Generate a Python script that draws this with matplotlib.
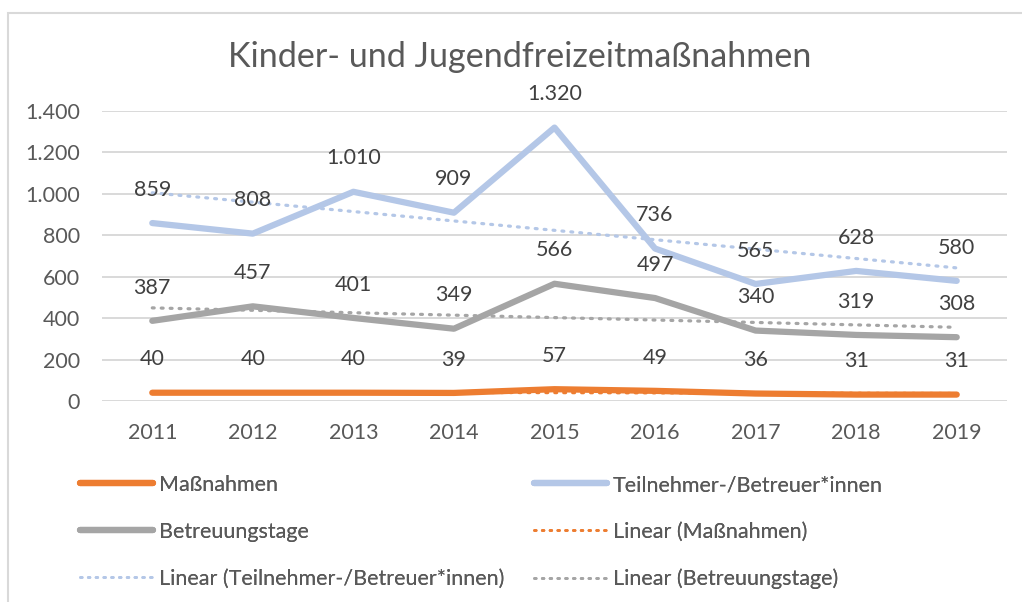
import numpy as np
import matplotlib.pyplot as plt
from matplotlib.patches import Rectangle
from matplotlib.lines import Line2D
from matplotlib.ticker import FuncFormatter

plt.rcParams['font.family'] = ['Lato', 'DejaVu Sans']

jahre = ['2011', '2012', '2013', '2014', '2015', '2016', '2017', '2018', '2019']
massnahmen = [40, 40, 40, 39, 57, 49, 36, 31, 31]
teilnehmer = [859, 808, 1010, 909, 1320, 736, 565, 628, 580]
betreuungstage = [387, 457, 401, 349, 566, 497, 340, 319, 308]

serien = [
    ('Maßnahmen', massnahmen, '#ED7D31'),
    ('Teilnehmer-/Betreuer*innen', teilnehmer, '#B4C7E7'),
    ('Betreuungstage', betreuungstage, '#A5A5A5'),
]

grau = '#595959'
fs = 15.5
punktiert = (0, (0.6, 2.2))

def punkt(v, pos=None):
    return f'{int(v):,}'.replace(',', '.')

fig = plt.figure(figsize=(10.22, 6.02), dpi=100)
ax = fig.add_axes([102 / 1022, 1 - 401 / 602, 905 / 1022, 290 / 602])

x = np.arange(len(jahre))

# lineare Trendlinien wie in Excel
for name, werte, farbe in serien:
    k, d = np.polyfit(x, werte, 1)
    ax.plot(x, k * x + d, color=farbe, lw=2.3, ls=punktiert,
            dash_capstyle='round', zorder=2)

for name, werte, farbe in serien:
    ax.plot(x, werte, color=farbe, lw=4.5, solid_capstyle='round', zorder=3)
    for i, v in enumerate(werte):
        ax.annotate(punkt(v), (x[i], v), xytext=(0, 24), textcoords='offset points',
                    ha='center', va='center', fontsize=fs, color='#404040', zorder=4)

ax.set_xlim(-0.5, len(jahre) - 0.5)
ax.set_ylim(0, 1400)
ax.set_yticks(range(0, 1401, 200))
ax.yaxis.set_major_formatter(FuncFormatter(punkt))
ax.set_xticks(x)
ax.set_xticklabels(jahre)
ax.tick_params(axis='both', length=0, labelsize=fs, labelcolor=grau)
ax.tick_params(axis='x', pad=16)
ax.tick_params(axis='y', pad=16)
ax.grid(axis='y', color='#D9D9D9', lw=1.4)
ax.set_axisbelow(True)
for s in ax.spines.values():
    s.set_visible(False)

fig.text(520 / 1022, 1 - 57 / 602, 'Kinder- und Jugendfreizeitmaßnahmen',
         ha='center', va='center', fontsize=24.6, color=grau)

# Legende in zwei Spalten
def voll(farbe):
    return Line2D([], [], color=farbe, lw=4.5, solid_capstyle='round')

def trend(farbe):
    return Line2D([], [], color=farbe, lw=2, ls=punktiert, dash_capstyle='round')

spalte1 = ([voll('#ED7D31'), voll('#A5A5A5'), trend('#B4C7E7')],
           ['Maßnahmen', 'Betreuungstage', 'Linear (Teilnehmer-/Betreuer*innen)'])
spalte2 = ([voll('#B4C7E7'), trend('#ED7D31'), trend('#A5A5A5')],
           ['Teilnehmer-/Betreuer*innen', 'Linear (Maßnahmen)', 'Linear (Betreuungstage)'])

for (h, l), x0 in [(spalte1, 80), (spalte2, 534)]:
    leg = fig.legend(h, l, loc='upper left', bbox_to_anchor=(x0 / 1022, 1 - 475 / 602),
                     frameon=False, fontsize=fs, handlelength=3.4, handletextpad=0.25,
                     labelspacing=1.25, borderpad=0, borderaxespad=0)
    for t in leg.get_texts():
        t.set_color(grau)
    fig.add_artist(leg)

fig.add_artist(Rectangle((8 / 1022, -0.05), 1.2, 1.05 - 13 / 602,
                         transform=fig.transFigure, fill=False,
                         ec='#D9D9D9', lw=1.5))

fig.savefig('out.png', dpi=100)
